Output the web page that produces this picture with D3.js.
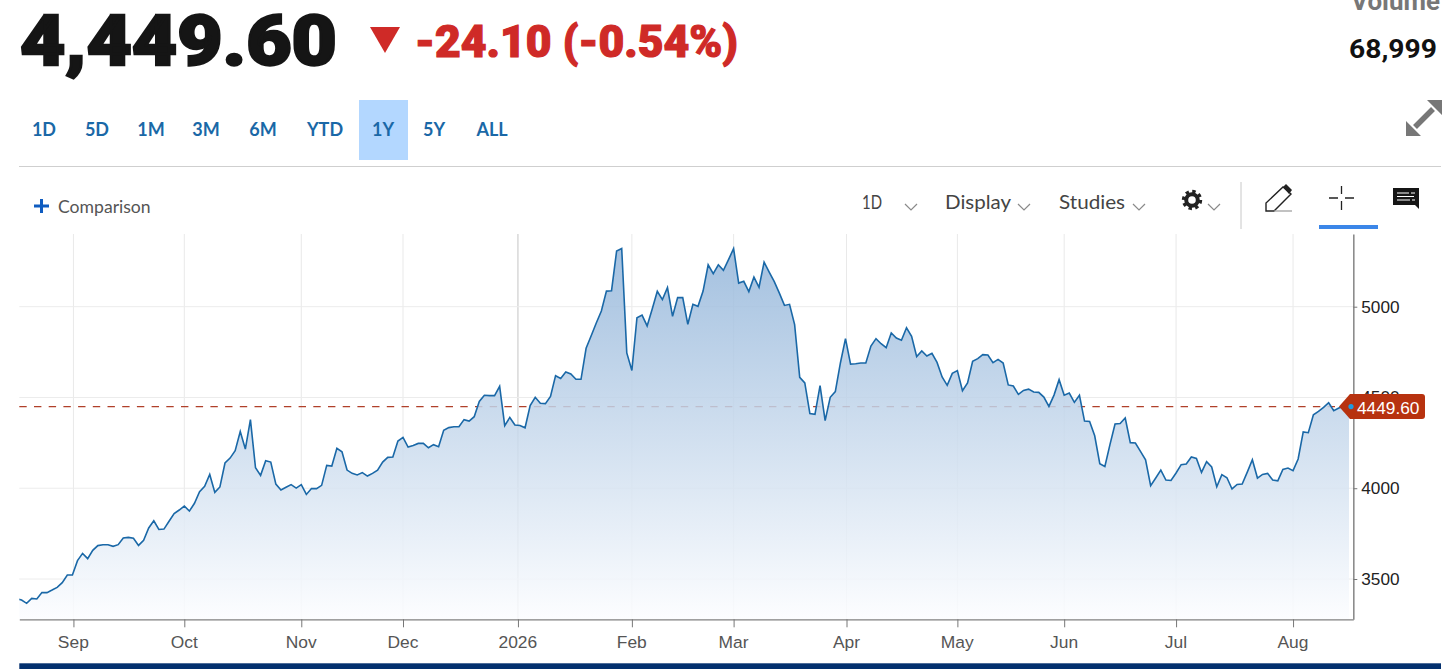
<!DOCTYPE html>
<html>
<head>
<meta charset="utf-8">
<script src="https://cdn.jsdelivr.net/npm/d3@7"></script>
<style>
html, body { margin: 0; padding: 0; background: #fff; overflow: hidden; }
svg { display: block; }
text { font-family: "Liberation Sans", Arial, sans-serif; }
.ui { font-family: Lato, "Open Sans", sans-serif; }
.head { font-family: Roboto, Lato, sans-serif; }
</style>
</head>
<body>
<script>
// daily closes, oldest first
var closes = [
  3392,3384,3366,3393,3390,3425,3425,3439,3454,3480,3522,3522,3601,3641,3612,3658,3684,3689,3689,3680,
  3689,3726,3729,3724,3685,3713,3781,3821,3773,3775,3818,3860,3880,3902,3874,3917,3981,4010,4076,3977,
  4007,4139,4166,4207,4312,4216,4378,4113,4071,4152,4144,4023,3990,4005,4020,4001,4020,3966,3998,3998,
  4016,4126,4122,4220,4201,4100,4082,4073,4086,4067,4082,4100,4144,4170,4172,4260,4280,4227,4236,4247,
  4247,4223,4240,4229,4319,4334,4339,4339,4378,4370,4394,4478,
  4512,4510,4510,4561,4345,4390,4348,4346,4333,4455,4501,4468,4466,4506,4620,4605,4640,4629,4600,4600,
  4771,4840,4910,4976,5086,5088,5307,5321,4745,4649,4939,4954,4894,4987,5085,5039,5105,4947,5050,5050,
  4903,5013,5002,5086,5231,5182,5231,5200,5259,5320,5130,5140,5083,5163,5107,5246,5191,5138,5075,5007,
  5013,4901,4611,4580,4411,4407,4565,4372,4501,4532,4690,4824,4684,4686,4690,4690,4783,4824,4796,4774,
  4855,4827,4815,4884,4837,4725,4756,4728,4743,4693,4613,4567,4633,4648,
  4537,4580,4699,4714,4736,4734,4692,4710,4690,4569,4563,4517,4539,4546,4530,4528,4502,4451,4513,4598,
  4512,4524,4473,4512,4370,4368,4289,4135,4120,4240,4354,4357,4387,4251,4249,4203,4157,4014,4056,4100,
  4045,4043,4084,4130,4133,4172,4164,4087,4146,4117,4008,4075,4058,3996,4021,4023,4089,4157,4056,4076,
  4082,4045,4041,4104,4111,4097,4161,4310,4306,4405,4423,4445,4471,4427,4442,4452,4449.6
];
var monthLabels = ["Sep","Oct","Nov","Dec","2026","Feb","Mar","Apr","May","Jun","Jul","Aug"];
var monthIndex = [11.2,33,56,76,98.6,121,141,163.2,185,206,228,251];
var priceTicks = [3500,4000,4500,5000];
var rangeLabels = ["1D","5D","1M","3M","6M","YTD","1Y","5Y","ALL"];
var activeRange = "1Y";
var lastPrice = 4449.60, bigPrice = "4,449.60", change = "-24.10 (-0.54%)", volume = "68,999";

var svg = d3.select("body").append("svg")
  .attr("width", 1456)
  .attr("height", 669);

var plot = {left: 19.3, right: 1353.3, top: 234, bottom: 619.3};

var y0 = d3.scaleLinear().domain([3500, 5000]).range([579, 306.7]);
var y = d3.scaleLinear()
  .domain([y0.invert(plot.bottom), y0.invert(plot.top)])
  .range([plot.bottom, plot.top]);
var x0 = d3.scaleLinear().domain([0, closes.length - 1]).range([16.47, 1349]);
var x = d3.scaleLinear()
  .domain([x0.invert(plot.left), x0.invert(plot.right)])
  .range([plot.left, plot.right]);

var defs = svg.append("defs");
defs.append("clipPath").attr("id", "plotClip").append("rect")
  .attr("x", plot.left).attr("y", plot.top)
  .attr("width", plot.right - plot.left).attr("height", plot.bottom - plot.top);
var grad = defs.append("linearGradient").attr("id", "areaFill")
  .attr("gradientUnits", "userSpaceOnUse")
  .attr("x1", 0).attr("x2", 0).attr("y1", 250).attr("y2", plot.bottom);
grad.append("stop").attr("offset", "0%").attr("stop-color", "rgb(148,182,218)").attr("stop-opacity", 0.85);
grad.append("stop").attr("offset", "100%").attr("stop-color", "rgb(252,253,255)").attr("stop-opacity", 0.85);

// gridlines
svg.append("g").selectAll("line").data(monthIndex).join("line")
  .attr("x1", function(d) { return x(d); }).attr("x2", function(d) { return x(d); })
  .attr("y1", plot.top).attr("y2", plot.bottom)
  .attr("stroke", function(d, i) { return monthLabels[i] == "2026" ? "#c4c4c4" : "#e9e9e9"; })
  .attr("stroke-width", 1);
svg.append("g").selectAll("line").data(priceTicks).join("line")
  .attr("x1", plot.left).attr("x2", plot.right)
  .attr("y1", function(d) { return y(d); }).attr("y2", function(d) { return y(d); })
  .attr("stroke", "#ececec").attr("stroke-width", 1);

// last price dashes sit under the area
svg.append("line")
  .attr("x1", plot.left).attr("x2", 1340)
  .attr("y1", y(lastPrice)).attr("y2", y(lastPrice))
  .attr("stroke", "#b0402a").attr("stroke-width", 1.4)
  .attr("stroke-dasharray", "7.4,7.3");

var g = svg.append("g").attr("clip-path", "url(#plotClip)");
var area = d3.area()
  .x(function(d, i) { return x(i); })
  .y0(plot.bottom)
  .y1(function(d) { return y(d); });
var line = d3.line()
  .x(function(d, i) { return x(i); })
  .y(function(d) { return y(d); });
g.append("path").datum(closes).attr("d", area).attr("fill", "url(#areaFill)");
g.append("path").datum(closes).attr("d", line)
  .attr("fill", "none").attr("stroke", "#1a68a7").attr("stroke-width", 1.6)
  .attr("stroke-linejoin", "miter");

// axes
var xAxis = svg.append("g")
  .attr("transform", "translate(0," + plot.bottom + ")")
  .call(d3.axisBottom(x).tickValues(monthIndex).tickSizeInner(8).tickSizeOuter(0).tickPadding(8)
    .tickFormat(function(d, i) { return monthLabels[i]; }));
xAxis.selectAll("text").attr("font-size", 17.4).attr("fill", "#555").attr("dx", -0.6).style("font-family", '"Liberation Sans", Arial, sans-serif');
xAxis.selectAll("line").attr("stroke", "#777");
xAxis.select(".domain").attr("stroke", "#808080").attr("stroke-width", 1.3);

var yAxis = svg.append("g")
  .attr("transform", "translate(" + plot.right + ",0)")
  .call(d3.axisRight(y).tickValues(priceTicks).tickSizeInner(4).tickSizeOuter(0).tickPadding(4)
    .tickFormat(d3.format("d")));
yAxis.selectAll("text").attr("font-size", 17.2).attr("fill", "#222").style("font-family", '"Liberation Sans", Arial, sans-serif');
yAxis.selectAll("line").attr("stroke", "#777");
yAxis.select(".domain").attr("stroke", "#8c8c8c").attr("stroke-width", 1.6);

// last price flag
var flagY = y(lastPrice);
svg.append("path")
  .attr("d", "M1339," + flagY + " L1350," + (flagY - 12.5) + " H1422 Q1425," + (flagY - 12.5) + " 1425," + (flagY - 9.5)
    + " V" + (flagY + 9.5) + " Q1425," + (flagY + 12.5) + " 1422," + (flagY + 12.5) + " H1350 Z")
  .attr("fill", "#b7320f");
svg.append("circle").attr("cx", 1351).attr("cy", flagY).attr("r", 2.6).attr("fill", "#1f9be0");
svg.append("text").attr("x", 1357).attr("y", flagY + 7)
  .attr("font-size", 17.3).attr("fill", "#fff").text(d3.format(".2f")(lastPrice));

// header, stroked a little to get the heavier weight
svg.append("text").attr("class", "head").attr("x", 20).attr("y", 65)
  .attr("font-size", 70).attr("font-weight", 900).attr("fill", "#151515")
  .attr("stroke", "#151515").attr("stroke-width", 2.4)
  .attr("textLength", 317).attr("lengthAdjust", "spacingAndGlyphs").text(bigPrice);
svg.append("path").attr("d", d3.line()([[370, 27], [400, 27], [385, 53]]) + "Z").attr("fill", "#cf2a27");
svg.append("text").attr("class", "head").attr("x", 415).attr("y", 57)
  .attr("font-size", 45).attr("font-weight", 900).attr("fill", "#cf2a27")
  .attr("stroke", "#cf2a27").attr("stroke-width", 1.2)
  .attr("textLength", 323).attr("lengthAdjust", "spacingAndGlyphs").text(change);
svg.append("text").attr("class", "head").attr("x", 1351).attr("y", 10)
  .attr("font-size", 25).attr("font-weight", 700).attr("fill", "#777")
  .attr("textLength", 89).attr("lengthAdjust", "spacingAndGlyphs").text("Volume");
svg.append("text").attr("class", "head").attr("x", 1349).attr("y", 58)
  .attr("font-size", 26).attr("font-weight", 700).attr("fill", "#111")
  .attr("textLength", 88).attr("lengthAdjust", "spacingAndGlyphs").text(volume);

// range buttons
var rangeX = d3.scaleOrdinal().domain(rangeLabels).range([44,97,151,206,263,325,383,434,492]);
svg.append("rect").attr("x", rangeX(activeRange) - 24).attr("y", 100).attr("width", 49).attr("height", 60).attr("fill", "#b3d7ff");
svg.append("g").selectAll("text").data(rangeLabels).join("text")
  .attr("class", "ui")
  .attr("x", function(d) { return rangeX(d); }).attr("y", 135.5)
  .attr("text-anchor", "middle").attr("font-size", 18).attr("font-weight", 700)
  .attr("fill", "#1a68a7").text(function(d) { return d; });
svg.append("line").attr("x1", 19).attr("x2", 1441).attr("y1", 166.5).attr("y2", 166.5).attr("stroke", "#cfcfcf");

// toolbar
svg.append("path").attr("d", "M34,206H49M41.5,199V213").attr("stroke", "#0f5cc0").attr("stroke-width", 3).attr("fill", "none");
svg.append("text").attr("class", "ui").attr("x", 58).attr("y", 213).attr("font-size", 17.6).attr("fill", "#555").text("Comparison");

var toolbarLabels = ["1D", "Display", "Studies"];
var toolbarX = [862, 945, 1059];
var toolbarW = [20, 66, 66];
var chevronX = [911, 1024, 1139, 1214];
svg.append("g").selectAll("text").data(toolbarLabels).join("text")
  .attr("class", "ui")
  .attr("x", function(d, i) { return toolbarX[i]; }).attr("y", 208.5)
  .attr("font-size", 20).attr("fill", "#444")
  .attr("textLength", function(d, i) { return toolbarW[i]; })
  .attr("lengthAdjust", "spacingAndGlyphs")
  .text(function(d) { return d; });
svg.append("g").selectAll("path").data(chevronX).join("path")
  .attr("d", function(d) { return "M" + (d - 6) + ",204 L" + d + ",210 L" + (d + 6) + ",204"; })
  .attr("fill", "none").attr("stroke", "#8a8a8a").attr("stroke-width", 1.2);

// gear
svg.append("circle").attr("cx", 1192).attr("cy", 200).attr("r", 5.8).attr("fill", "none").attr("stroke", "#222").attr("stroke-width", 4);
svg.append("circle").attr("cx", 1192).attr("cy", 200).attr("r", 8.6).attr("fill", "none").attr("stroke", "#222").attr("stroke-width", 3.2)
  .attr("stroke-dasharray", "3.4,3.35");

svg.append("line").attr("x1", 1241).attr("x2", 1241).attr("y1", 182).attr("y2", 229).attr("stroke", "#c8c8c8");

// pencil
svg.append("path").attr("d", "M1266,211 V203 L1283,187 L1291,194 L1274,211 Z").attr("fill", "none").attr("stroke", "#222").attr("stroke-width", 1.4);
svg.append("path").attr("d", "M1283,187 L1286,184 L1292,190 L1289,194 Z").attr("fill", "#222");
svg.append("line").attr("x1", 1274).attr("x2", 1292).attr("y1", 211).attr("y2", 211).attr("stroke", "#999").attr("stroke-width", 1.2);

// crosshair
svg.append("path").attr("d", "M1329,198H1338M1345,198H1354M1341.5,186V194M1341.5,201V210").attr("stroke", "#222").attr("stroke-width", 1.3).attr("fill", "none");
svg.append("rect").attr("x", 1319).attr("y", 225).attr("width", 59).attr("height", 4).attr("fill", "#3b86e8");

// comment
svg.append("path").attr("d", "M1393,188 H1419 V209 L1415,205 H1393 Z").attr("fill", "#151515");
svg.append("path").attr("d", "M1397,193H1409M1397,196.5H1414M1397,200H1410M1411,193H1415M1412,200H1415").attr("stroke", "#fff").attr("stroke-width", 1);

// expand arrows
svg.append("path").attr("d", "M1415,127 L1433,109").attr("stroke", "#777").attr("stroke-width", 5.5);
svg.append("path").attr("d", "M1427,100 H1442 V115 Z M1406,121 V136 H1421 Z").attr("fill", "#777");

// bottom bar
svg.append("rect").attr("x", 19.3).attr("y", 663.3).attr("width", 1421.7).attr("height", 6).attr("fill", "#03306e");
</script>
</body>
</html>
